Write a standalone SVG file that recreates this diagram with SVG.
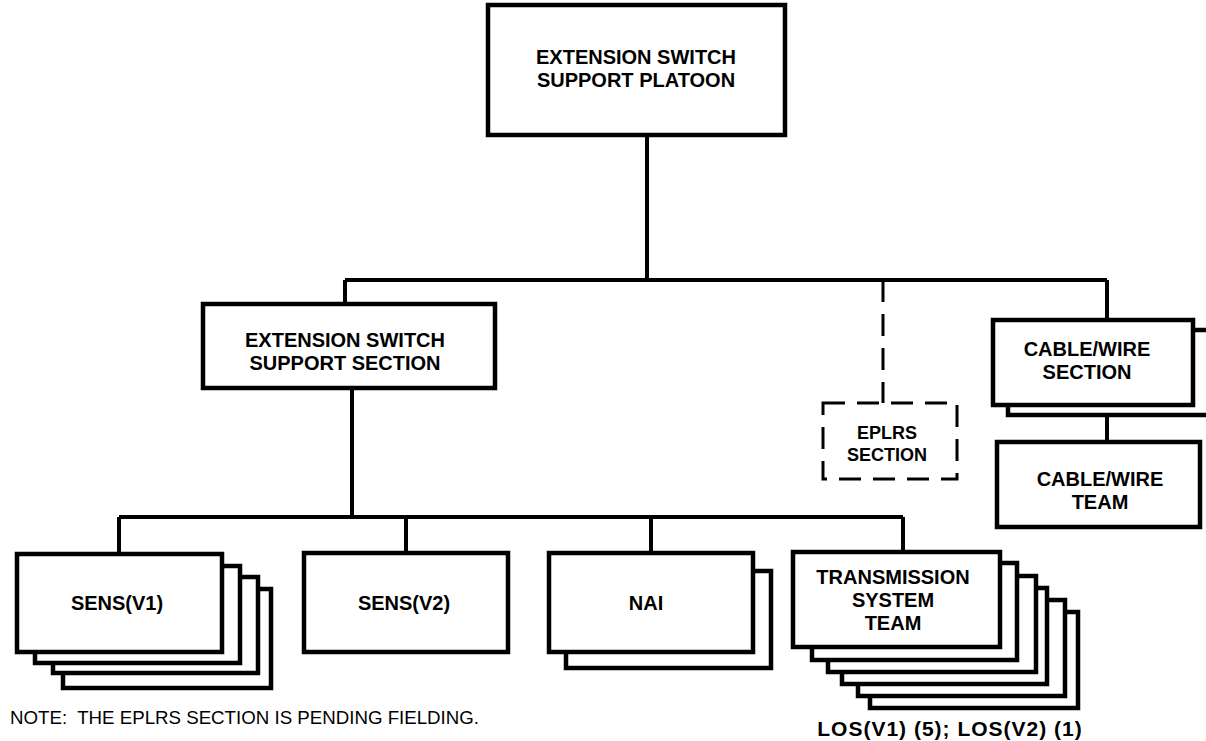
<svg xmlns="http://www.w3.org/2000/svg" width="1206" height="741" viewBox="0 0 1206 741">
<style>
.box{fill:#fff;stroke:#000;stroke-width:4.5}
.dash{fill:none;stroke:#000;stroke-width:3;stroke-dasharray:22 12}
.ln{fill:none;stroke:#000;stroke-width:4}
.t{font-family:"Liberation Sans",Arial,sans-serif;font-weight:bold;font-size:20px;text-anchor:middle;fill:#000}
.n{font-family:"Liberation Sans",Arial,sans-serif;font-size:18.7px;fill:#000}
</style>
<rect width="1206" height="741" fill="#fff"/>
<g id="connectors">
<path class="ln" d="M647 135V280M345 280H1107M345 280V304M1107 280V320M1107 415V442"/>
<path class="dash" d="M883 280V403"/>
<path class="ln" d="M352 388V517M119 517H903M119 517V554M406 517V553M651 517V553M903 517V552"/>
</g>
<g id="platoon">
<rect class="box" x="488" y="5" width="297" height="130"/>
<text class="t" x="636" y="64">EXTENSION SWITCH</text>
<text class="t" x="636" y="87">SUPPORT PLATOON</text>
</g>
<g id="ess-section">
<rect class="box" x="203" y="304" width="292" height="84"/>
<text class="t" x="345" y="347">EXTENSION SWITCH</text>
<text class="t" x="345" y="370">SUPPORT SECTION</text>
</g>
<g id="eplrs">
<rect class="dash" x="823" y="403" width="134" height="76"/>
<text class="t" x="887" y="439" style="font-size:18px">EPLRS</text>
<text class="t" x="887" y="461" style="font-size:18px">SECTION</text>
</g>
<g id="cable-section">
<rect class="box" x="1008" y="330" width="210" height="85"/>
<rect class="box" x="993" y="320" width="200" height="85"/>
<text class="t" x="1087" y="356">CABLE/WIRE</text>
<text class="t" x="1087" y="379">SECTION</text>
</g>
<g id="cable-team">
<rect class="box" x="997" y="442" width="203" height="85"/>
<text class="t" x="1100" y="486">CABLE/WIRE</text>
<text class="t" x="1100" y="509">TEAM</text>
</g>
<g id="sens-v1">
<rect class="box" x="63" y="589" width="208" height="99"/>
<rect class="box" x="53" y="577" width="205" height="96"/>
<rect class="box" x="35" y="566" width="205" height="97"/>
<rect class="box" x="17" y="554" width="205" height="98"/>
<text class="t" x="117" y="610">SENS(V1)</text>
</g>
<g id="sens-v2">
<rect class="box" x="304" y="553" width="204" height="99"/>
<text class="t" x="404" y="610">SENS(V2)</text>
</g>
<g id="nai">
<rect class="box" x="566" y="571" width="205" height="97"/>
<rect class="box" x="549" y="553" width="204" height="99"/>
<text class="t" x="646" y="610">NAI</text>
</g>
<g id="tst">
<rect class="box" x="870" y="612" width="208" height="96"/>
<rect class="box" x="858" y="600" width="207" height="96"/>
<rect class="box" x="842" y="588" width="205" height="96"/>
<rect class="box" x="828" y="576" width="208" height="96"/>
<rect class="box" x="812" y="563" width="205" height="97"/>
<rect class="box" x="793" y="552" width="207" height="95"/>
<text class="t" x="893" y="584">TRANSMISSION</text>
<text class="t" x="893" y="607">SYSTEM</text>
<text class="t" x="893" y="630">TEAM</text>
</g>
<text class="n" x="10" y="724" xml:space="preserve">NOTE:  THE EPLRS SECTION IS PENDING FIELDING.</text>
<text class="t" x="950" y="736" style="font-size:21px;letter-spacing:1px">LOS(V1) (5); LOS(V2) (1)</text>
</svg>
